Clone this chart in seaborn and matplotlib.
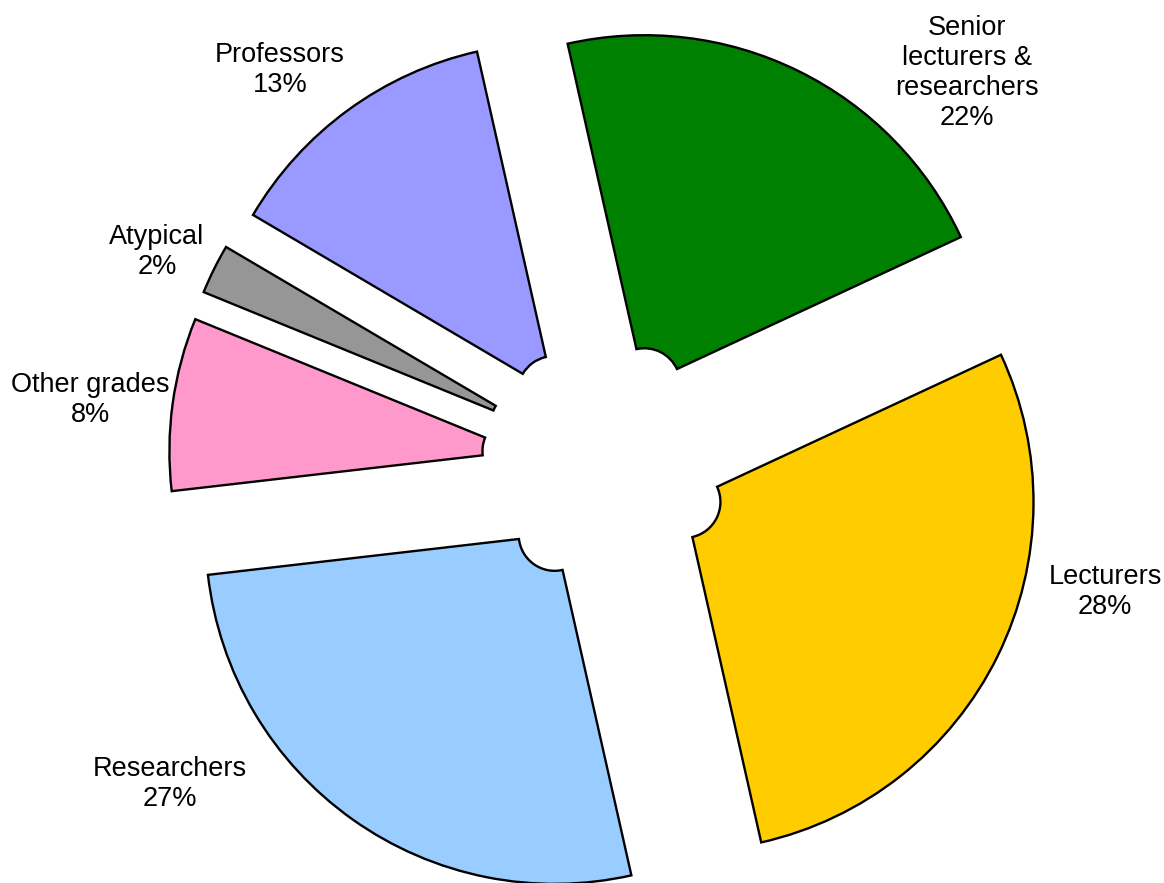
import seaborn as sns
import matplotlib.pyplot as plt

# Staff grades and their shares (%)
grades = ['Senior\nlecturers &\nresearchers', 'Lecturers', 'Researchers',
          'Other grades', 'Atypical', 'Professors']
shares = [21.6, 28.4, 26.7, 8.0, 2.3, 13.0]
colors = ['#008000', '#FFCC00', '#99CCFF', '#FF99CC', '#969696', '#9999FF']

# label centres in axes data units (pie radius = 1)
label_xy = [(1.036, 1.118), (1.431, -0.369), (-1.248, -0.919),
            (-1.477, 0.181), (-1.285, 0.605), (-0.933, 1.127)]

sns.set_theme(style='white')
plt.rcParams['font.family'] = ['Liberation Sans', 'DejaVu Sans']

fig = plt.figure(figsize=(11.64, 8.83), dpi=100)
ax = fig.add_axes([0, 0, 1, 1])

ax.pie(shares, colors=colors, startangle=102.7, counterclock=False,
       explode=[0.252] * len(shares),
       wedgeprops=dict(width=0.897, edgecolor='black', linewidth=1.7))

for name, val, (x, y) in zip(grades, shares, label_xy):
    ax.text(x, y, f'{name}\n{round(val)}%', ha='center', va='center',
            fontsize=19.5, color='black', linespacing=1.2)

ax.set_xlim(-1.735, 1.600)
ax.set_ylim(-1.203, 1.327)
ax.set_aspect('equal')
ax.axis('off')

fig.savefig('out.png', dpi=100, facecolor='white')
